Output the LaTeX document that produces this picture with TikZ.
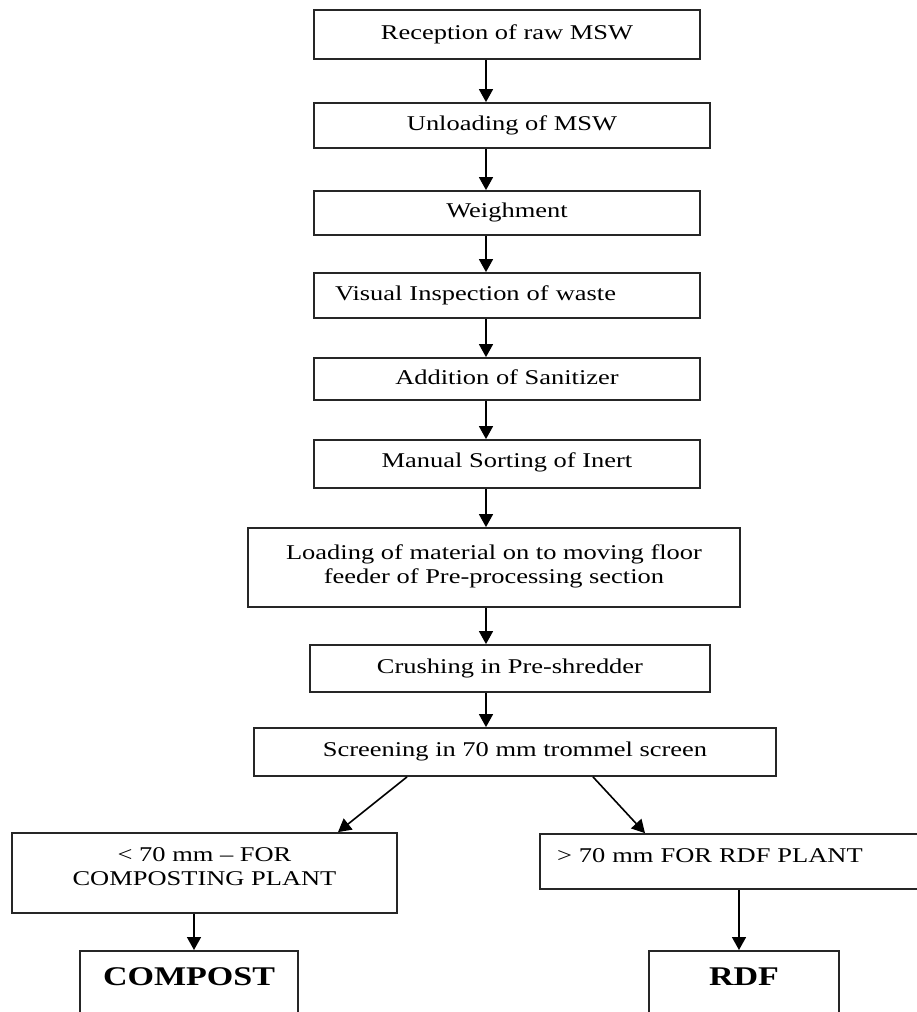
\documentclass[tikz,border=0pt]{standalone}
\usepackage{fontspec}
\setmainfont{Liberation Serif}[FakeStretch=1.26]
\usetikzlibrary{arrows.meta}
\begin{document}
\begin{tikzpicture}[x=1pt,y=-1pt,
  box/.style={draw=black!85, line width=1.8pt, rectangle, inner sep=0pt, align=center, font=\fontsize{21}{24}\selectfont},
  one/.style={text height=14pt, text depth=5pt},
  big/.style={draw=black!85, line width=1.8pt, rectangle, anchor=north, inner xsep=0pt, inner ysep=17pt, text height=18pt, text depth=10pt, font=\fontsize{27}{30}\selectfont\bfseries},
  arr/.style={line width=1.6pt, -{Triangle[width=14pt,length=13pt]}}]
\useasboundingbox (0,0) rectangle (917,1012);
\clip (0,0) rectangle (917,1012);

\node[box,one,minimum width=386pt,minimum height=49pt] (r1) at (507,34.5) {Reception of raw MSW};
\node[box,one,minimum width=396pt,minimum height=45pt] (r2) at (512,125.5) {Unloading of MSW};
\node[box,one,minimum width=386pt,minimum height=44pt] (r3) at (507,213) {Weighment};
\node[box,one,minimum width=386pt,minimum height=45pt,text width=344pt,align=left] (r4) at (507,295.5) {Visual Inspection of waste};
\node[box,one,minimum width=386pt,minimum height=42pt,text depth=4pt] (r5) at (507,379) {Addition of Sanitizer};
\node[box,one,minimum width=386pt,minimum height=48pt,text depth=8pt] (r6) at (507,464) {Manual Sorting of Inert};
\node[box,minimum width=492pt,minimum height=79pt,text depth=7pt] (r7) at (494,567.5) {Loading of material on to moving floor\\feeder of Pre-processing section};
\node[box,one,minimum width=400pt,minimum height=47pt] (r8) at (510,668.5) {Crushing in Pre-shredder};
\node[box,one,minimum width=522pt,minimum height=48pt] (r9) at (515,752) {Screening in 70 mm trommel screen};
\node[box,minimum width=385pt,minimum height=80pt,text depth=13pt] (r10) at (204.5,873) {< 70 mm – FOR\\COMPOSTING PLANT};
\node[box,one,minimum width=400pt,minimum height=55pt,text width=366pt,align=left,text depth=13pt] (r11) at (740,861.5) {> 70 mm FOR RDF PLANT};
\node[big,minimum width=218pt] (r12) at (189,950) {COMPOST};
\node[big,minimum width=190pt] (r13) at (744,950) {RDF};

\coordinate (ax) at (486,0);
\coordinate (dl1) at (407,0);
\coordinate (dl2) at (338,0);
\coordinate (dr1) at (593,0);
\coordinate (dr2) at (645,0);
\coordinate (cl) at (194,0);
\coordinate (cr) at (739,0);

\draw[arr] (r1.south -| ax) -- (r2.north -| ax);
\draw[arr] (r2.south -| ax) -- (r3.north -| ax);
\draw[arr] (r3.south -| ax) -- (r4.north -| ax);
\draw[arr] (r4.south -| ax) -- (r5.north -| ax);
\draw[arr] (r5.south -| ax) -- (r6.north -| ax);
\draw[arr] (r6.south -| ax) -- (r7.north -| ax);
\draw[arr] (r7.south -| ax) -- (r8.north -| ax);
\draw[arr] (r8.south -| ax) -- (r9.north -| ax);
\draw[arr] (r9.south -| dl1) -- (r10.north -| dl2);
\draw[arr] (r9.south -| dr1) -- (r11.north -| dr2);
\draw[arr] (r10.south -| cl) -- (r12.north -| cl);
\draw[arr] (r11.south -| cr) -- (r13.north -| cr);
\end{tikzpicture}
\end{document}
